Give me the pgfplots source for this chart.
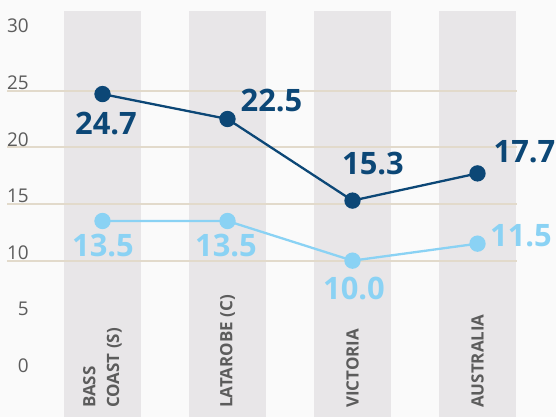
\documentclass[border=0pt]{standalone}
\usepackage{pgfplots}
\pgfplotsset{compat=1.18}
\usepackage{fontspec}
\setmainfont{Open Sans}
\definecolor{darkb}{HTML}{0C4776}
\definecolor{lightb}{HTML}{8AD2F4}
\definecolor{band}{HTML}{E8E6E8}
\definecolor{gridc}{HTML}{E2DACB}
\definecolor{txt}{HTML}{5C5C5C}
\definecolor{bg}{HTML}{FAFAFA}
\begin{document}
\begin{tikzpicture}
\path[use as bounding box] (0,0) rectangle (556bp,417bp);
\begin{axis}[at={(0,0)}, anchor=south west, scale only axis, width=556bp, height=417bp,
  xmin=-0.82, xmax=3.628, ymin=-3.794, ymax=33.0,
  axis on top,
  axis line style={draw=none}, tick style={draw=none},
  axis background/.style={fill=bg},
  xtick={0,1,2,3},
  xticklabels={{BASS\\COAST (S)},{LATAROBE (C)},{VICTORIA},{AUSTRALIA}},
  xticklabel style={yshift=9bp, rotate=90, anchor=west, inner sep=0pt, align=left,
    font=\bfseries\fontsize{17}{24}\selectfont, text=txt},
  ytick={0,5,...,30},
  yticklabel style={anchor=east, inner sep=0pt, xshift=29bp, yshift=8bp,
    font=\fontsize{19}{19}\selectfont, text=txt},
  /pgf/number format/assume math mode=true,
  clip=false,
]
% category bands
\addplot[draw=none, fill=band, forget plot] coordinates {(-0.308,-3.794) (0.308,-3.794) (0.308,32.03) (-0.308,32.03)} -- cycle;
\addplot[draw=none, fill=band, forget plot] coordinates {(0.692,-3.794) (1.308,-3.794) (1.308,32.03) (0.692,32.03)} -- cycle;
\addplot[draw=none, fill=band, forget plot] coordinates {(1.692,-3.794) (2.308,-3.794) (2.308,32.03) (1.692,32.03)} -- cycle;
\addplot[draw=none, fill=band, forget plot] coordinates {(2.692,-3.794) (3.308,-3.794) (3.308,32.03) (2.692,32.03)} -- cycle;
% grid lines
\addplot[gridc, line width=1.7bp, forget plot] coordinates {(-0.764,10) (3.316,10)};
\addplot[gridc, line width=1.7bp, forget plot] coordinates {(-0.764,15) (3.316,15)};
\addplot[gridc, line width=1.7bp, forget plot] coordinates {(-0.764,20) (3.316,20)};
\addplot[gridc, line width=1.7bp, forget plot] coordinates {(-0.764,25) (3.316,25)};
% series
\addplot[lightb, line width=2.3bp, mark=*, mark size=7bp, mark options={solid, fill=lightb}] coordinates {(0,13.5) (1,13.5) (2,10.0) (3,11.5)};
\addplot[darkb, line width=2.3bp, mark=*, mark size=7bp, mark options={solid, fill=darkb}] coordinates {(0,24.7) (1,22.5) (2,15.3) (3,17.7)};
% value labels
\begin{scope}[every node/.style={inner sep=0pt, font=\bfseries\fontsize{31}{31}\selectfont}]
\node[text=darkb] at (axis cs:0.028,22.06) {24.7};
\node[text=darkb] at (axis cs:1.352,24.13) {22.5};
\node[text=darkb] at (axis cs:2.164,18.53) {15.3};
\node[text=darkb] at (axis cs:3.376,19.63) {17.7};
\node[text=lightb] at (axis cs:0.004,11.34) {13.5};
\node[text=lightb] at (axis cs:0.988,11.38) {13.5};
\node[text=lightb] at (axis cs:2.012,7.54) {10.0};
\node[text=lightb] at (axis cs:3.348,12.22) {11.5};
\end{scope}
\end{axis}
\end{tikzpicture}
\end{document}
